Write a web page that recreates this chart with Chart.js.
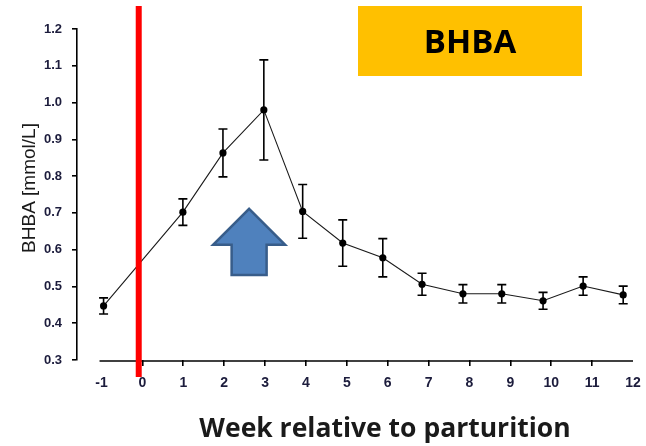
<!DOCTYPE html>
<html>
<head>
<meta charset="utf-8">
<script src="https://cdn.jsdelivr.net/npm/chart.js@4.4.1/dist/chart.umd.min.js"></script>
<style>
  html, body { margin: 0; padding: 0; background: #fff; overflow: hidden; }
  #wrap { width: 646px; height: 446px; }
</style>
</head>
<body>
<div id="wrap"><canvas id="c" width="646" height="446"></canvas></div>
<script>
// Sampling weeks relative to parturition and where each sample sits on the week axis
const weeks       = [-1, 1, 2, 3, 4, 5, 6, 7, 8, 9, 10, 11, 12];
const weekPlotted = [-0.95, 0.99, 1.97, 2.97, 3.92, 4.90, 5.88, 6.84, 7.84, 8.79, 9.80, 10.78, 11.76];
// Blood BHBA (mmol/L): mean and standard error
const bhbaMean = [0.447, 0.702, 0.863, 0.980, 0.704, 0.618, 0.578, 0.506, 0.480, 0.480, 0.461, 0.501, 0.477];
const bhbaErr  = [0.022, 0.036, 0.065, 0.136, 0.073, 0.063, 0.052, 0.030, 0.025, 0.025, 0.023, 0.025, 0.024];

// Axis ticks
const xTickValues = [-1, 0, 1, 2, 3, 4, 5, 6, 7, 8, 9, 10, 11, 12];
const xTickLabels = ['-1', '0', '1', '2', '3', '4', '5', '6', '7', '8', '9', '10', '11', '12'];
const yTickValues = [0.3, 0.4, 0.5, 0.6, 0.7, 0.8, 0.9, 1.0, 1.1, 1.2];
const yTickLabels = ['0.3', '0.4', '0.5', '0.6', '0.7', '0.8', '0.9', '1.0', '1.1', '1.2'];

// Texts
const chartTitle = 'BHBA';
const xTitle = 'Week relative to parturition';
const yTitle = 'BHBA [mmol/L]';

// Calving line and the "rise" arrow, in axis units
const parturitionWeek = -0.09;
const arrowWeek = 2.61, arrowTip = 0.711, arrowBase = 0.531;

const tickColor = '#1c1c3c';

// Error bars: vertical whiskers with caps, under the markers
const errorBars = {
  id: 'errorBars',
  beforeDatasetsDraw(chart) {
    const { ctx, scales: { x, y } } = chart;
    ctx.save();
    ctx.strokeStyle = '#000';
    ctx.lineWidth = 1.6;
    weekPlotted.forEach((w, i) => {
      const px = x.getPixelForValue(w);
      const top = y.getPixelForValue(bhbaMean[i] + bhbaErr[i]);
      const bot = y.getPixelForValue(bhbaMean[i] - bhbaErr[i]);
      ctx.beginPath();
      ctx.moveTo(px, top); ctx.lineTo(px, bot);
      ctx.moveTo(px - 4.5, top); ctx.lineTo(px + 4.5, top);
      ctx.moveTo(px - 4.5, bot); ctx.lineTo(px + 4.5, bot);
      ctx.stroke();
    });
    ctx.restore();
  }
};

// Axis line for weeks, titles, calving marker, arrow and the title box
const decorations = {
  id: 'decorations',
  afterDraw(chart) {
    const { ctx, chartArea: a, scales: { x, y } } = chart;
    ctx.save();

    // week axis line starting at week -1
    ctx.strokeStyle = '#000';
    ctx.lineWidth = 1.6;
    ctx.beginPath();
    ctx.moveTo(x.getPixelForValue(-1) - 2, a.bottom + 1);
    ctx.lineTo(a.right, a.bottom + 1);
    ctx.stroke();

    // calving (week 0) marker
    const rx = x.getPixelForValue(parturitionWeek);
    ctx.strokeStyle = '#ff0000';
    ctx.lineWidth = 6;
    ctx.beginPath();
    ctx.moveTo(rx, a.top - 23);
    ctx.lineTo(rx, a.bottom + 17);
    ctx.stroke();

    // up arrow
    const ax = x.getPixelForValue(arrowWeek);
    const tip = y.getPixelForValue(arrowTip);
    const base = y.getPixelForValue(arrowBase);
    const headW = 36, shaftW = 17.5, headH = 36;
    ctx.beginPath();
    ctx.moveTo(ax, tip);
    ctx.lineTo(ax + headW, tip + headH);
    ctx.lineTo(ax + shaftW, tip + headH);
    ctx.lineTo(ax + shaftW, base);
    ctx.lineTo(ax - shaftW, base);
    ctx.lineTo(ax - shaftW, tip + headH);
    ctx.lineTo(ax - headW, tip + headH);
    ctx.closePath();
    ctx.fillStyle = '#4f81bd';
    ctx.fill();
    ctx.lineJoin = 'miter';
    ctx.strokeStyle = '#385d8a';
    ctx.lineWidth = 2.5;
    ctx.stroke();

    // title box
    ctx.fillStyle = '#ffc000';
    ctx.fillRect(358, 6, 224, 70);
    ctx.fillStyle = '#000';
    ctx.font = 'bold 33px "Open Sans", sans-serif';
    ctx.textAlign = 'center';
    ctx.textBaseline = 'alphabetic';
    ctx.fillText(chartTitle, 470, 53);

    // x title
    ctx.fillStyle = '#1a1a1a';
    ctx.font = 'bold 26.5px "Open Sans", sans-serif';
    ctx.fillText(xTitle, 385, 437);

    // y title
    ctx.translate(35, 188);
    ctx.rotate(-Math.PI / 2);
    ctx.font = '19px "Liberation Sans", Arial, sans-serif';
    ctx.textBaseline = 'alphabetic';
    ctx.fillText(yTitle, 0, 0);

    ctx.restore();
  }
};

new Chart(document.getElementById('c'), {
  type: 'scatter',
  data: {
    datasets: [{
      label: 'BHBA',
      data: weekPlotted.map((w, i) => ({ x: w, y: bhbaMean[i] })),
      showLine: true,
      tension: 0,
      borderColor: '#1a1a1a',
      borderWidth: 1.1,
      pointRadius: 3.6,
      pointHoverRadius: 3.6,
      pointBackgroundColor: '#000',
      pointBorderColor: '#000',
      pointBorderWidth: 0
    }]
  },
  options: {
    responsive: false,
    animation: false,
    devicePixelRatio: 1,
    layout: { padding: { top: 29, right: 13, left: 0, bottom: 0 } },
    plugins: { legend: { display: false }, tooltip: { enabled: false }, title: { display: false } },
    scales: {
      x: {
        type: 'linear',
        min: -1.6,
        max: 12,
        afterBuildTicks(scale) { scale.ticks = xTickValues.map(v => ({ value: v })); },
        afterFit(scale) { scale.height = 86; scale.paddingLeft = 0; scale.paddingRight = 0; },
        border: { display: false },
        grid: {
          drawOnChartArea: false,
          drawTicks: true,
          tickLength: 6,
          lineWidth: 1.6,
          color: ctx => (ctx.tick && (ctx.tick.value === -1 || ctx.tick.value === 12)) ? 'rgba(0,0,0,0)' : '#000'
        },
        ticks: {
          autoSkip: false,
          maxRotation: 0,
          padding: 9,
          color: tickColor,
          font: { family: '"Liberation Sans", Arial, sans-serif', size: 14, weight: 'bold' },
          callback: (v, i) => xTickLabels[i]
        }
      },
      y: {
        type: 'linear',
        min: 0.3,
        max: 1.2,
        afterBuildTicks(scale) { scale.ticks = yTickValues.map(v => ({ value: v })); },
        afterFit(scale) { scale.width = 77; scale.paddingTop = 0; scale.paddingBottom = 0; },
        border: { display: true, color: '#000', width: 1.6 },
        grid: {
          drawOnChartArea: false,
          drawTicks: true,
          tickLength: 5,
          lineWidth: 1.6,
          color: '#000'
        },
        ticks: {
          autoSkip: false,
          padding: 10,
          color: tickColor,
          font: { family: '"Liberation Sans", Arial, sans-serif', size: 13, weight: 'bold' },
          callback: (v, i) => yTickLabels[i]
        }
      }
    }
  },
  plugins: [errorBars, decorations]
});
</script>
</body>
</html>
